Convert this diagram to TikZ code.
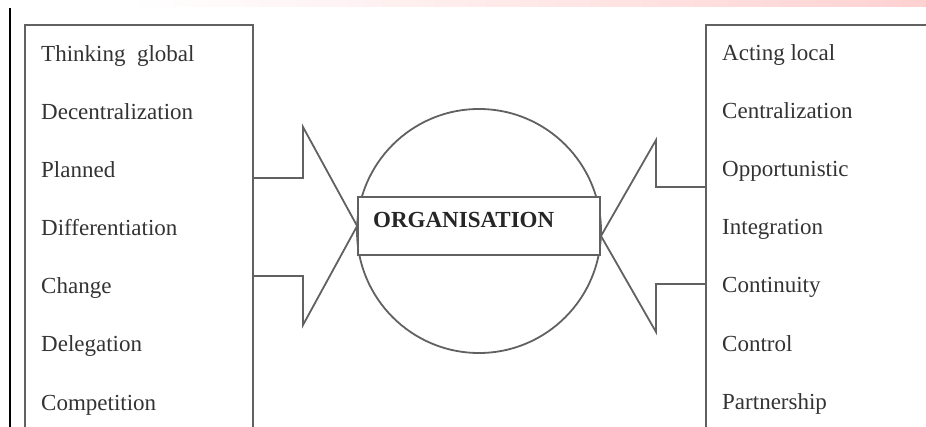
\documentclass[tikz,border=0pt]{standalone}
\usepackage{fontspec}
\setmainfont{Liberation Serif}
\begin{document}
\begin{tikzpicture}[x=1pt,y=-1pt,
  frame/.style={draw=black!62, line width=1.8pt},
  item/.style={anchor=base west, inner sep=0pt, text=black!80, font=\fontsize{23}{27}\selectfont},
  title/.style={anchor=base west, inner sep=0pt, text=black!85, font=\fontsize{23}{27}\selectfont\bfseries}]
\useasboundingbox (0,0) rectangle (926,427);
% watermark band at top
\shade[left color=white, right color=red!18, draw=none] (130,0) rectangle (926,7);
% left black rule
\draw[black, line width=1.6pt] (10,8) -- (10,427);
% boxes
\draw[frame] (25,427) -- (25,25) -- (253,25) -- (253,427);
\draw[frame] (706,427) -- (706,25) -- (927,25);
% circle and rectangle
\node[frame, circle, minimum size=244pt, inner sep=0pt] (org) at (479,231) {};
\node[frame, fill=white, minimum width=242pt, minimum height=58pt, inner sep=0pt] (band) at (479,226) {};
\node[title] (orgtxt) at (373,228) {ORGANISATION};
% arrows
\coordinate (la) at (253,178);
\coordinate (lb) at (253,276);
\draw[frame, line join=miter] (la) -- (303,178) -- (303,127) -- (band.west) -- (303,325) -- (303,276) -- (lb);
\coordinate (ra) at (706,187);
\coordinate (rb) at (706,284);
\draw[frame, line join=miter] (ra) -- (656,187) -- (656,140) -- (601,236) -- (656,332) -- (656,284) -- (rb);
% left texts
\node[item] (l1) at (41,62) {Thinking\ \ global};
\node[item] (l2) at (41,120) {Decentralization};
\node[item] (l3) at (41,178) {Planned};
\node[item] (l4) at (41,236) {Differentiation};
\node[item] (l5) at (41,294) {Change};
\node[item] (l6) at (41,352) {Delegation};
\node[item] (l7) at (41,410) {Competition};
% right texts
\node[item] (r1) at (722,61) {Acting local};
\node[item] (r2) at (722,119) {Centralization};
\node[item] (r3) at (722,177) {Opportunistic};
\node[item] (r4) at (722,235) {Integration};
\node[item] (r5) at (722,293) {Continuity};
\node[item] (r6) at (722,352) {Control};
\node[item] (r7) at (722,409) {Partnership};
\end{tikzpicture}
\end{document}
